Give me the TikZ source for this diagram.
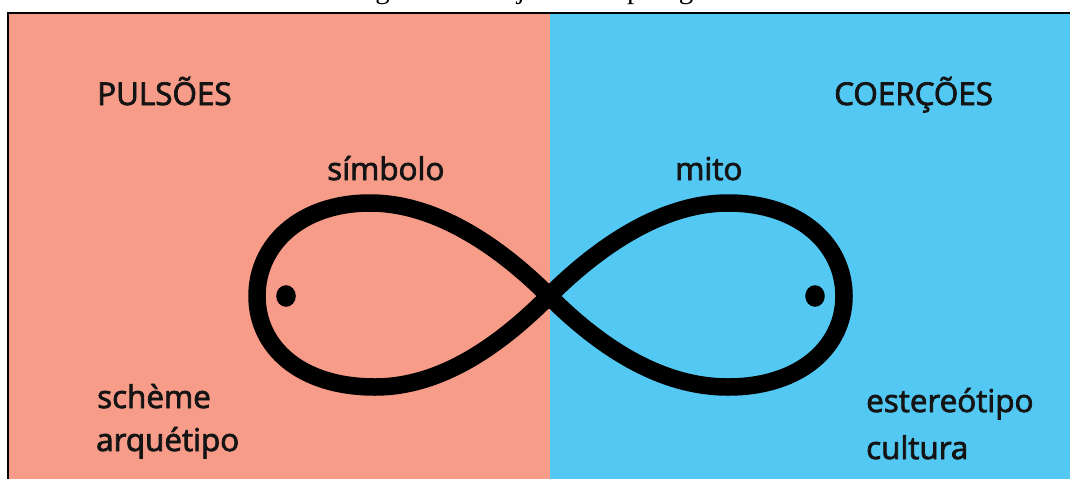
\documentclass[tikz,border=0pt]{standalone}
\usepackage{fontspec}
\setmainfont{Open Sans}
\newfontfamily\lblfont{Open Sans}[FakeBold=2.4]
\newfontfamily\capfont{Liberation Serif}
\definecolor{salmon}{HTML}{F69C89}
\definecolor{skyb}{HTML}{53C8F3}
\begin{document}
\begin{tikzpicture}[x=1pt,y=-1pt,
  lbl/.style={anchor=base west, inner sep=0pt, font=\lblfont\fontsize{31.4}{36}\selectfont, text=black!92},
  loopline/.style={line width=17.5pt, line join=round, draw=black}]
\useasboundingbox (0,0) rectangle (1070,479);
\fill[white] (0,0) rectangle (1070,479);
\begin{scope}
\clip (0,0) rectangle (1070,479);
\node[anchor=base west, inner sep=0pt, font=\capfont\fontsize{29}{34}\selectfont] (cap) at (351,-1.5) {Figura 1 – Trajeto antropológico};
\end{scope}
\fill[salmon] (8,13) rectangle (550,479);
\fill[skyb] (550,13) rectangle (1070,479);
\draw[line width=2.5pt] (8,479) -- (8,13) -- (1070,13);
\draw[loopline] (549,296) .. controls (505,252) and (440,203) .. (370,203)
  .. controls (300,203) and (257,245) .. (257,296)
  .. controls (257,347) and (300,387) .. (375,387)
  .. controls (445,387) and (505,340) .. (549,296)
  .. controls (593,252) and (658,203) .. (728,203)
  .. controls (800,203) and (844,245) .. (844,296)
  .. controls (844,347) and (800,387) .. (728,387)
  .. controls (655,387) and (593,340) .. (549,296) -- cycle;
\fill (286,296) ellipse [x radius=9.8, y radius=10.8];
\fill (815,296) ellipse [x radius=9.8, y radius=10.8];
\node[lbl] (pul) at (97,105) {PULSÕES};
\node[lbl] (coe) at (834,105) {COERÇÕES};
\node[lbl] (sim) at (327,180) {símbolo};
\node[lbl] (mit) at (675,180) {mito};
\node[lbl] (sch) at (97,408) {schème};
\node[lbl] (arq) at (96,451) {arquétipo};
\node[lbl] (est) at (866,412) {estereótipo};
\node[lbl] (cul) at (866,459) {cultura};
\end{tikzpicture}
\end{document}
